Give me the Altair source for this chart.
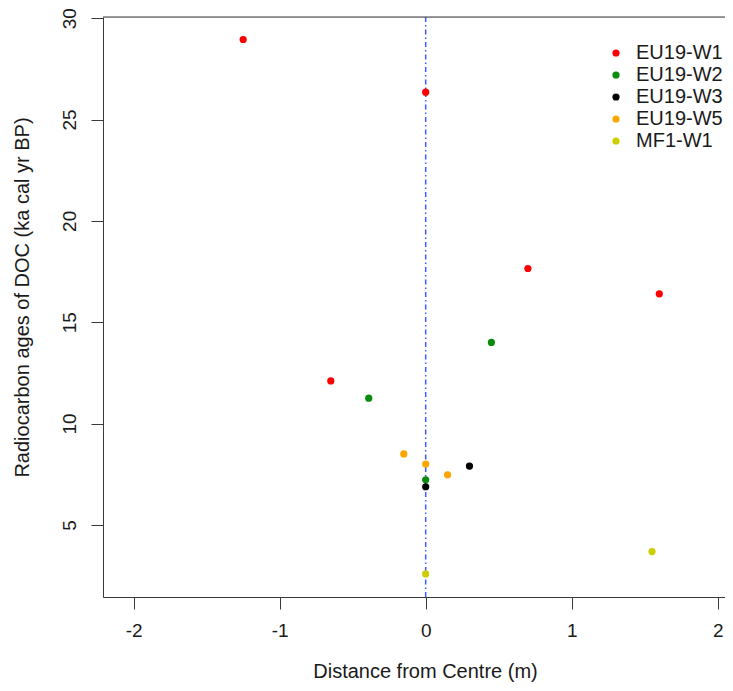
import altair as alt
import pandas as pd

series = ["EU19-W1"] * 5 + ["EU19-W2"] * 3 + ["EU19-W3"] * 2 + ["EU19-W5"] * 3 + ["MF1-W1"] * 2
distance = [-1.25, 0.0, -0.65, 0.70, 1.60,
            -0.39, 0.45, 0.0,
            0.0, 0.30,
            -0.15, 0.0, 0.15,
            0.0, 1.55]
age = [28.95, 26.35, 12.1, 17.65, 16.4,
       11.25, 14.0, 7.22,
       6.88, 7.9,
       8.5, 8.0, 7.47,
       2.58, 3.68]

categories = ["EU19-W1", "EU19-W2", "EU19-W3", "EU19-W5", "MF1-W1"]
colors = ["#FF0000", "#0A8C0A", "#000000", "#FFA500", "#CDCD00"]
x_ticks = [-2, -1, 0, 1, 2]
y_ticks = [5, 10, 15, 20, 25, 30]

df = pd.DataFrame({"series": series, "distance": distance, "age": age})

FONT = "Liberation Sans"
FS = 19
TFS = 20
W, H = 622, 580
XDOM = [-2.21, 2.05]
YDOM = [1.44, 30.06]
TXT = "#1a1a1a"
AX = "#3a3a3a"

points = alt.Chart(df).mark_circle(size=52, opacity=1).encode(
    x=alt.X("distance:Q",
            scale=alt.Scale(domain=XDOM, nice=False, zero=False),
            axis=alt.Axis(values=x_ticks, title="Distance from Centre (m)",
                          labelExpr="'' + datum.value",
                          grid=False, tickSize=12, labelPadding=12, labelFontSize=FS,
                          titleFontSize=TFS, titleFontWeight="normal",
                          titleX=322, titleY=80, titleBaseline="alphabetic", titleAnchor="middle",
                          domainColor=AX, tickColor=AX,
                          labelColor=TXT, titleColor=TXT)),
    y=alt.Y("age:Q",
            scale=alt.Scale(domain=YDOM, nice=False, zero=False),
            axis=alt.Axis(values=y_ticks,
                          title="Radiocarbon ages of DOC (ka cal yr BP)",
                          labelExpr="'' + datum.value",
                          grid=False, tickSize=12, labelAngle=270, labelPadding=16,
                          labelBaseline="alphabetic", labelAlign="center",
                          labelFontSize=FS, titleFontSize=TFS, titleFontWeight="normal",
                          titleX=-81, titleY=280, titleBaseline="middle", titleAnchor="middle",
                          domainColor=AX, tickColor=AX,
                          labelColor=TXT, titleColor=TXT)),
    color=alt.Color("series:N",
                    scale=alt.Scale(domain=categories, range=colors),
                    legend=alt.Legend(title=None, orient="none", legendX=503, legendY=26,
                                      labelFontSize=TFS, symbolSize=52, symbolType="circle",
                                      rowPadding=2, padding=0, labelOffset=10,
                                      labelColor=TXT)),
)

vline = alt.Chart(pd.DataFrame({"x": [0.0]})).mark_rule(
    color="#3A5BFF", strokeDash=[5, 3, 1.5, 3], strokeWidth=1.5
).encode(x="x:Q")

topline = alt.Chart(pd.DataFrame({"a": [0]})).mark_rule(
    color=AX, strokeWidth=1
).encode(x=alt.value(0), x2=alt.value(W), y=alt.value(0))

chart = alt.layer(vline, points, topline).properties(
    width=W, height=H,
    autosize=alt.AutoSizeParams(type="none"),
    padding={"left": 95, "top": 9, "right": 0, "bottom": 86},
).configure_view(strokeWidth=0).configure(font=FONT)

chart.save("out.html", embed_options={"renderer": "svg", "actions": False})
